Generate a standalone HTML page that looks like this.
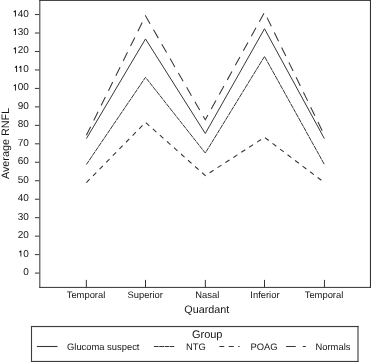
<!DOCTYPE html>
<html><head><meta charset="utf-8"><style>
html,body{margin:0;padding:0;background:#fff;overflow:hidden;}
svg{display:block;will-change:transform;}
text{text-rendering:geometricPrecision;font-family:"Liberation Sans",sans-serif;fill:#151515;}
.n{font-size:10px;}
.t{font-size:9.4px;}
.ti{font-size:10.8px;}
.tg{font-size:11px;}
.tl{font-size:9.4px;}
</style></head><body>
<svg width="371" height="362" viewBox="0 0 371 362">
<rect x="39.33" y="0" width="1.0" height="287.9" fill="#333"/>
<rect x="369.93" y="0" width="1.07" height="287.9" fill="#333"/>
<rect x="39.33" y="0" width="331.67" height="0.9" fill="#333"/>
<rect x="39.33" y="286.9" width="331.67" height="1.0" fill="#333"/>
<rect x="34.9" y="272.57" width="4.4" height="1" fill="#333"/>
<text x="23.15" y="275.07" class="n">0</text>
<rect x="34.9" y="254.10" width="4.4" height="1" fill="#333"/>
<path d="M20.40,250.40 L21.35,250.40 L21.35,256.60 L20.40,256.60 L20.40,252.30 C19.95,252.30 19.45,252.40 19.05,252.40 L19.05,251.60 C19.75,251.50 20.25,251.00 20.40,250.40 Z" fill="#151515"/>
<text x="23.15" y="256.60" class="n">0</text>
<rect x="34.9" y="235.64" width="4.4" height="1" fill="#333"/>
<text x="17.70" y="238.14" class="n">2</text>
<text x="23.15" y="238.14" class="n">0</text>
<rect x="34.9" y="217.17" width="4.4" height="1" fill="#333"/>
<text x="17.70" y="219.67" class="n">3</text>
<text x="23.15" y="219.67" class="n">0</text>
<rect x="34.9" y="198.71" width="4.4" height="1" fill="#333"/>
<text x="17.70" y="201.21" class="n">4</text>
<text x="23.15" y="201.21" class="n">0</text>
<rect x="34.9" y="180.24" width="4.4" height="1" fill="#333"/>
<text x="17.70" y="182.74" class="n">5</text>
<text x="23.15" y="182.74" class="n">0</text>
<rect x="34.9" y="161.77" width="4.4" height="1" fill="#333"/>
<text x="17.70" y="164.27" class="n">6</text>
<text x="23.15" y="164.27" class="n">0</text>
<rect x="34.9" y="143.31" width="4.4" height="1" fill="#333"/>
<text x="17.70" y="145.81" class="n">7</text>
<text x="23.15" y="145.81" class="n">0</text>
<rect x="34.9" y="124.84" width="4.4" height="1" fill="#333"/>
<text x="17.70" y="127.34" class="n">8</text>
<text x="23.15" y="127.34" class="n">0</text>
<rect x="34.9" y="106.38" width="4.4" height="1" fill="#333"/>
<text x="17.70" y="108.88" class="n">9</text>
<text x="23.15" y="108.88" class="n">0</text>
<rect x="34.9" y="87.91" width="4.4" height="1" fill="#333"/>
<path d="M14.95,84.21 L15.90,84.21 L15.90,90.41 L14.95,90.41 L14.95,86.11 C14.50,86.11 14.00,86.21 13.60,86.21 L13.60,85.41 C14.30,85.31 14.80,84.81 14.95,84.21 Z" fill="#151515"/>
<text x="17.70" y="90.41" class="n">0</text>
<text x="23.15" y="90.41" class="n">0</text>
<rect x="34.9" y="69.44" width="4.4" height="1" fill="#333"/>
<path d="M16.10,65.74 L17.05,65.74 L17.05,71.94 L16.10,71.94 L16.10,67.64 C15.65,67.64 15.15,67.74 14.75,67.74 L14.75,66.94 C15.45,66.84 15.95,66.34 16.10,65.74 Z" fill="#151515"/>
<path d="M20.40,65.74 L21.35,65.74 L21.35,71.94 L20.40,71.94 L20.40,67.64 C19.95,67.64 19.45,67.74 19.05,67.74 L19.05,66.94 C19.75,66.84 20.25,66.34 20.40,65.74 Z" fill="#151515"/>
<text x="23.15" y="71.94" class="n">0</text>
<rect x="34.9" y="50.98" width="4.4" height="1" fill="#333"/>
<path d="M14.95,47.28 L15.90,47.28 L15.90,53.48 L14.95,53.48 L14.95,49.18 C14.50,49.18 14.00,49.28 13.60,49.28 L13.60,48.48 C14.30,48.38 14.80,47.88 14.95,47.28 Z" fill="#151515"/>
<text x="17.70" y="53.48" class="n">2</text>
<text x="23.15" y="53.48" class="n">0</text>
<rect x="34.9" y="32.51" width="4.4" height="1" fill="#333"/>
<path d="M14.95,28.81 L15.90,28.81 L15.90,35.01 L14.95,35.01 L14.95,30.71 C14.50,30.71 14.00,30.81 13.60,30.81 L13.60,30.01 C14.30,29.91 14.80,29.41 14.95,28.81 Z" fill="#151515"/>
<text x="17.70" y="35.01" class="n">3</text>
<text x="23.15" y="35.01" class="n">0</text>
<rect x="34.9" y="14.05" width="4.4" height="1" fill="#333"/>
<path d="M14.95,10.35 L15.90,10.35 L15.90,16.55 L14.95,16.55 L14.95,12.25 C14.50,12.25 14.00,12.35 13.60,12.35 L13.60,11.55 C14.30,11.45 14.80,10.95 14.95,10.35 Z" fill="#151515"/>
<text x="17.70" y="16.55" class="n">4</text>
<text x="23.15" y="16.55" class="n">0</text>
<rect x="85.85" y="279.9" width="1" height="7.5" fill="#333"/>
<text x="86.00" y="297.7" text-anchor="middle" class="t">Temporal</text>
<rect x="145.00" y="279.9" width="1" height="7.5" fill="#333"/>
<text x="145.20" y="297.7" text-anchor="middle" class="t">Superior</text>
<rect x="204.85" y="279.9" width="1" height="7.5" fill="#333"/>
<text x="207.30" y="297.7" text-anchor="middle" class="t">Nasal</text>
<rect x="264.00" y="279.9" width="1" height="7.5" fill="#333"/>
<text x="264.95" y="297.7" text-anchor="middle" class="t">Inferior</text>
<rect x="323.95" y="279.9" width="1" height="7.5" fill="#333"/>
<text x="324.00" y="297.7" text-anchor="middle" class="t">Temporal</text>
<text x="206.8" y="313.3" text-anchor="middle" class="ti">Quardant</text>
<text transform="translate(9.2,143.5) rotate(-90)" x="0" y="0" text-anchor="middle" class="ti">Average RNFL</text>
<polyline points="86.40,138.64 145.50,38.92 205.30,133.47 264.50,28.76 324.40,138.64" fill="none" stroke="#363636" stroke-width="1.0"/>
<polyline points="86.40,164.49 145.50,77.33 205.30,153.04 264.50,56.46 324.40,164.49" fill="none" stroke="#363636" stroke-width="1.0" stroke-dasharray="4.8 0.55"/>
<polyline points="86.40,182.59 145.50,122.39 205.30,175.57 264.50,137.34 324.40,182.59" fill="none" stroke="#363636" stroke-width="1.1" stroke-dasharray="4.7 4.72"/>
<polyline points="86.40,135.31 145.50,15.84 205.30,119.80 264.50,12.33 324.40,135.31" fill="none" stroke="#363636" stroke-width="1.05" stroke-dasharray="9.6 7.0"/>
<rect x="30.95" y="325.95" width="327.6" height="1.15" fill="#3c3c3c"/>
<rect x="30.95" y="360.9" width="327.6" height="1.1" fill="#3c3c3c"/>
<rect x="30.95" y="325.95" width="1.1" height="36.05" fill="#3c3c3c"/>
<rect x="357.45" y="325.95" width="1.1" height="36.05" fill="#3c3c3c"/>
<text x="207.2" y="337.8" text-anchor="middle" class="tg">Group</text>
<line x1="36.9" y1="346.5" x2="57.5" y2="346.5" stroke="#363636" stroke-width="1.1"/>
<text x="67" y="350" class="tl">Glucoma suspect</text>
<line x1="153.9" y1="346.5" x2="174.3" y2="346.5" stroke="#363636" stroke-width="1.1" stroke-dasharray="4.8 0.55"/>
<text x="186" y="350" class="tl">NTG</text>
<line x1="219.4" y1="346.5" x2="239.6" y2="346.5" stroke="#363636" stroke-width="1.1" stroke-dasharray="4.9 4.5"/>
<text x="250.5" y="350" class="tl">POAG</text>
<line x1="286.1" y1="346.5" x2="305.8" y2="346.5" stroke="#363636" stroke-width="1.1" stroke-dasharray="9.6 7.0"/>
<text x="315.5" y="350" class="tl">Normals</text>
</svg>
</body></html>
